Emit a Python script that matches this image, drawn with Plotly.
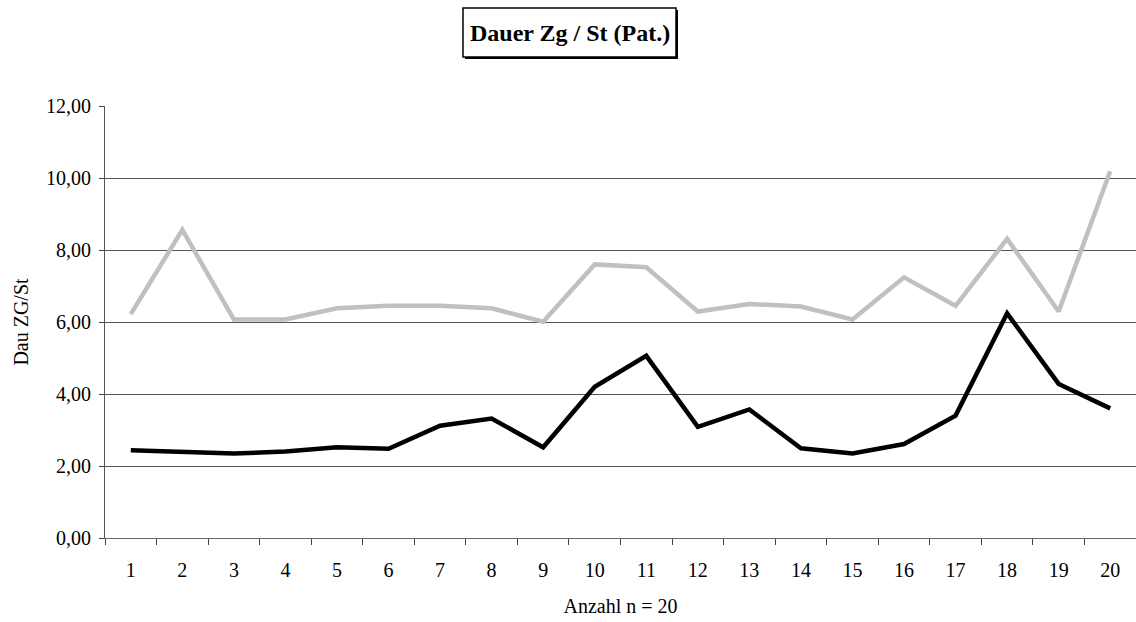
import plotly.graph_objects as go

categories = [str(i) for i in range(1, 21)]
gray_values = [6.22, 8.56, 6.07, 6.07, 6.38, 6.45, 6.45, 6.38, 6.01, 7.60,
               7.52, 6.29, 6.50, 6.43, 6.07, 7.24, 6.45, 8.31, 6.29, 10.19]
black_values = [2.44, 2.38, 2.35, 2.40, 2.52, 2.48, 3.12, 3.32, 2.52, 4.20,
                5.06, 3.09, 3.57, 2.49, 2.35, 2.61, 3.40, 6.24, 4.28, 3.60]
y_ticks = [0, 2, 4, 6, 8, 10, 12]

FONT = "Liberation Serif"
W, H = 1136, 622
L, R, T, B = 105, 0, 106, 84
PW, PH = W - L - R, H - T - B


def px_x(x):
    return (x - L) / PW


def px_y(y):
    return (H - B - y) / PH


fig = go.Figure()
fig.add_trace(go.Scatter(x=categories, y=gray_values, mode="lines",
                         line=dict(color="#C0C0C0", width=4.5), showlegend=False))
fig.add_trace(go.Scatter(x=categories, y=black_values, mode="lines",
                         line=dict(color="#000000", width=4.5), showlegend=False))

fig.update_layout(
    width=W, height=H,
    margin=dict(l=L, r=R, t=T, b=B),
    paper_bgcolor="white", plot_bgcolor="white",
    separators=",.",
    font=dict(family=FONT, size=20, color="black"),
    showlegend=False,
)
fig.update_xaxes(
    type="category", range=[-0.5, 19.5], tickson="boundaries",
    ticks="outside", ticklen=6, tickcolor="#444",
    showline=True, linecolor="#666", linewidth=1,
    showgrid=False, ticklabelstandoff=14,
    title=dict(text="Anzahl n = 20", font=dict(family=FONT, size=20), standoff=18),
)
fig.update_yaxes(
    range=[0, 12], tickvals=y_ticks, tickformat=".2f",
    ticks="outside", ticklen=5, tickcolor="#444",
    showline=True, linecolor="#555", linewidth=1,
    showgrid=True, gridcolor="#555", gridwidth=1, zeroline=False,
    ticklabelstandoff=4,
    title=dict(text="Dau ZG/St", font=dict(family=FONT, size=20), standoff=12),
)

# title box with shadow
fig.add_shape(type="rect", xref="paper", yref="paper",
              x0=px_x(465), x1=px_x(678), y0=px_y(59), y1=px_y(10),
              line=dict(width=0), fillcolor="black")
fig.add_shape(type="rect", xref="paper", yref="paper",
              x0=px_x(463), x1=px_x(676), y0=px_y(57), y1=px_y(8),
              line=dict(width=1.5, color="black"), fillcolor="white")
fig.add_annotation(
    text="<b>Dauer Zg / St (Pat.)</b>", xref="paper", yref="paper",
    x=px_x(570), y=px_y(33), xanchor="center", yanchor="middle",
    showarrow=False,
    font=dict(family=FONT, size=24, color="black"),
)

fig.write_html("out.html")
